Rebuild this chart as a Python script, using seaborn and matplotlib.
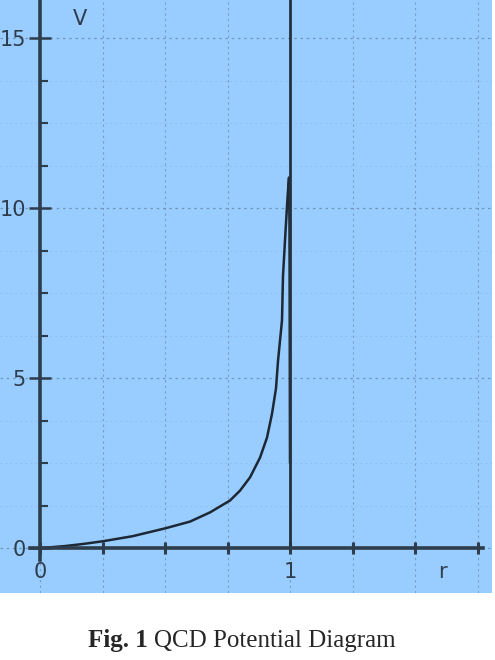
import matplotlib
matplotlib.use("Agg")
import matplotlib.pyplot as plt
from matplotlib.ticker import FixedLocator
import numpy as np
import pandas as pd
import seaborn as sns

# curve
r_vals = [0.0, 0.1, 0.17, 0.25, 0.37, 0.5, 0.6, 0.68, 0.76, 0.8, 0.84, 0.88, 0.908,
          0.928, 0.944, 0.952, 0.968, 0.972, 0.982, 0.99, 0.996, 0.998, 1.0, 1.0]
v_vals = [0.0, 0.06, 0.12, 0.2, 0.35, 0.58, 0.78, 1.05, 1.4, 1.69, 2.08, 2.66, 3.25,
          3.95, 4.7, 5.5, 6.7, 8.0, 9.3, 10.3, 10.9, 9.5, 5.0, 0.0]

y_major = [0, 5, 10, 15]
y_labels = ["0", "5", "10", "15"]
y_minor = [1.25, 2.5, 3.75, 6.25, 7.5, 8.75, 11.25, 12.5, 13.75]
x_major = [0, 0.25, 0.5, 0.75, 1, 1.25, 1.5, 1.75]
x_labels = ["0", "", "", "", "1", "", "", ""]

bg = "#99ccff"
ink = "#2e3d4c"

sns.set_style("white")
plt.rcParams["font.family"] = ["DejaVu Sans"]
plt.rcParams["ytick.minor.visible"] = True

fig = plt.figure(figsize=(4.95, 6.6), dpi=100)
fig.patch.set_facecolor("white")
ax = fig.add_axes([0, 67 / 660, 492 / 495, 593 / 660])
ax.set_facecolor(bg)

df = pd.DataFrame({"r": r_vals, "V": v_vals})
sns.lineplot(data=df, x="r", y="V", ax=ax, sort=False, color="#1c2833", lw=1.8)

# the vertical line at r = 1
ax.plot([1, 1], [0, 16.2], color="#25313d", lw=2.0)

ax.set_xlim(-0.16, 1.808)
ax.set_ylim(-1.32, 16.12)

for s in ["top", "right"]:
    ax.spines[s].set_visible(False)
ax.spines["left"].set_position(("data", 0))
ax.spines["bottom"].set_position(("data", 0))
ax.spines["left"].set_bounds(-0.35, 16.12)
ax.spines["bottom"].set_bounds(-0.04, 1.77)
for s in ["left", "bottom"]:
    ax.spines[s].set_color(ink)
    ax.spines[s].set_linewidth(2.6)

ax.yaxis.set_major_locator(FixedLocator(y_major))
ax.set_yticklabels(y_labels)
ax.yaxis.set_minor_locator(FixedLocator(y_minor))
ax.xaxis.set_major_locator(FixedLocator(x_major))
ax.set_xticklabels(x_labels)
ax.xaxis.set_minor_locator(FixedLocator([]))

ax.tick_params(axis="y", which="major", direction="inout", length=16, width=1.8,
               color=ink, labelsize=15, labelcolor=ink, pad=2, left=True)
ax.tick_params(axis="y", which="minor", direction="in", length=6, width=1.5,
               color=ink, left=True)
ax.tick_params(axis="x", which="major", direction="inout", length=8, width=2.2,
               color=ink, labelsize=15, labelcolor=ink, pad=6, bottom=True)

ax.grid(True, which="major", axis="x", color="#5f7f9f", ls=(0, (2, 3)), lw=0.8, alpha=0.6)
ax.grid(True, which="major", axis="y", color="#5f7f9f", ls=(0, (2, 3)), lw=0.9, alpha=0.7)
ax.grid(True, which="minor", axis="y", color="#6f8faf", ls=(0, (2, 4)), lw=0.6, alpha=0.3)
ax.set_axisbelow(True)

ax.set_xlabel("")
ax.set_ylabel("")
ax.text(0.16, 15.55, "V", color=ink, fontsize=15, ha="center", va="center")
ax.text(1.61, -0.7, "r", color=ink, fontsize=15, ha="center", va="center")

fig.text(88 / 495, 1 - 647 / 660, "Fig. 1", fontsize=18, fontweight="bold",
         family="Liberation Serif", ha="left", va="baseline")
fig.text(154 / 495, 1 - 647 / 660, "QCD Potential Diagram", fontsize=18,
         family="Liberation Serif", ha="left", va="baseline")

fig.savefig("out.png", dpi=100, facecolor="white")
